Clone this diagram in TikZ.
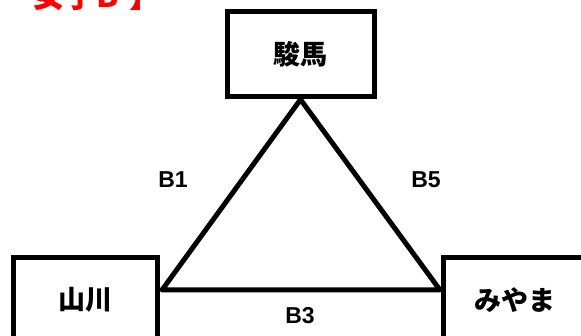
\documentclass[tikz,border=0pt]{standalone}
\usepackage{fontspec}
\setmainfont{Liberation Sans}
\newfontfamily\jpfont{Noto Sans CJK JP}
\begin{document}
\begin{tikzpicture}[
  x=1pt, y=-1pt,
  line width=5pt,
  box/.style = {shape=rectangle, draw, minimum width=144pt, minimum height=84pt,
                inner sep=0pt, font=\jpfont\bfseries\fontsize{27}{27}\selectfont},
  tag/.style = {inner sep=0pt, font=\bfseries\fontsize{23}{23}\selectfont}
]
  \useasboundingbox (0,0) rectangle (581,336);
  \node[anchor=base west, text=red, inner sep=0pt,
        font=\jpfont\bfseries\fontsize{32}{32}\selectfont] (title) at (30,8) {女子B\,\,】};
  \node[box, minimum width=147pt, minimum height=85pt] (kuma) at (300.5,54.5) {駿馬};
  \node[box] (yama) at (85,300) {山川};
  \node[box] (miya) at (515,300) {みやま};
  \coordinate (pl) at (162,290);
  \coordinate (pr) at (440,290);
  \draw[line join=round] (kuma.south) -- (pl) -- (pr) -- cycle;
  \node[tag] (b1) at (173,180) {B1};
  \node[tag] (b5) at (426,180) {B5};
  \node[tag] (b3) at (300,316) {B3};
\end{tikzpicture}
\end{document}
